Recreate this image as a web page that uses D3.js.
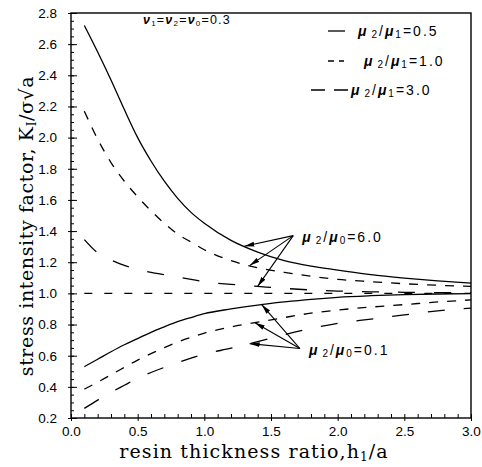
<!DOCTYPE html>
<html>
<head>
<meta charset="utf-8">
<script src="https://cdn.jsdelivr.net/npm/d3@7"></script>
<style>
  body { margin: 0; background: #fff; }
  svg { display: block; }
</style>
</head>
<body>
<svg class="js-graph"></svg>
<script>
/* <DATA> */
var hValues = [0.1, 0.2, 0.3, 0.4, 0.5, 0.6, 0.7, 0.8, 0.9, 1.0, 1.2, 1.4, 1.6, 1.8, 2.0, 2.25, 2.5, 2.75, 3.0];

// mu2/mu0 = 6.0
var high05 = [2.72, 2.55, 2.37, 2.18, 2.00, 1.85, 1.72, 1.61, 1.52, 1.45, 1.34, 1.265, 1.21, 1.175, 1.15, 1.12, 1.098, 1.08, 1.066];
var high10 = [2.17, 1.99, 1.84, 1.72, 1.62, 1.53, 1.45, 1.38, 1.33, 1.28, 1.21, 1.165, 1.135, 1.11, 1.09, 1.075, 1.062, 1.052, 1.045];
var high30 = [1.345, 1.26, 1.215, 1.18, 1.155, 1.135, 1.12, 1.105, 1.09, 1.075, 1.058, 1.045, 1.032, 1.022, 1.015, 1.01, 1.007, 1.005, 1.004];

// mu2/mu0 = 0.1
var low05 = [0.53, 0.577, 0.625, 0.67, 0.71, 0.75, 0.785, 0.818, 0.845, 0.87, 0.90, 0.925, 0.945, 0.962, 0.975, 0.985, 0.992, 0.996, 0.998];
var low10 = [0.385, 0.43, 0.478, 0.525, 0.572, 0.613, 0.652, 0.688, 0.718, 0.745, 0.785, 0.815, 0.845, 0.873, 0.893, 0.912, 0.928, 0.945, 0.958];
var low30 = [0.262, 0.315, 0.365, 0.41, 0.455, 0.492, 0.525, 0.555, 0.585, 0.61, 0.648, 0.69, 0.735, 0.775, 0.808, 0.835, 0.862, 0.888, 0.905];

// reference line K = 1
var refH = [0.1, 3.0];
var refK = [1.0, 1.0];

var muRatios = ['0.5', '1.0', '3.0'];
var yMajorTicks = [0.2, 0.4, 0.6, 0.8, 1.0, 1.2, 1.4, 1.6, 1.8, 2.0, 2.2, 2.4, 2.6, 2.8];
var xMajorTicks = [0.0, 0.5, 1.0, 1.5, 2.0, 2.5, 3.0];

// annotation: label position and the h values the arrows point at
var label6 = { h: 1.667, k: 1.371, text: '6.0' };
var tips6 = [1.30, 1.34, 1.40];
var label01 = { h: 1.717, k: 0.646, text: '0.1' };
var tips01 = [1.43, 1.38, 1.34];
/* </DATA> */

var W = 482, H = 467;
var margin = { top: 13, right: 11, bottom: 49, left: 71 };

var svg = d3.select('.js-graph').attr('width', W).attr('height', H);

var x = d3.scaleLinear().domain([0, 3]).range([margin.left, W - margin.right]);
var y = d3.scaleLinear().domain([0.2, 2.8]).range([H - margin.bottom, margin.top]);

var dashStyles = ['none', '9,9', '17,19'];

function series(vals) {
  return hValues.map(function (h, i) { return { h: h, k: vals[i] }; });
}

function interp(vals, h) {
  var i = d3.bisectRight(hValues, h) - 1;
  i = Math.max(0, Math.min(i, hValues.length - 2));
  var t = (h - hValues[i]) / (hValues[i + 1] - hValues[i]);
  return vals[i] + t * (vals[i + 1] - vals[i]);
}

var line = d3.line()
  .x(function (d) { return x(d.h); })
  .y(function (d) { return y(d.k); })
  .curve(d3.curveMonotoneX);

// AXES
var tickFont = '"Liberation Sans", Arial, sans-serif';

var minorY = d3.range(0.2, 2.801, 0.05);
var minorX = d3.range(0, 3.001, 0.1);

svg.append('g')
  .attr('transform', 'translate(' + margin.left + ',0)')
  .call(d3.axisLeft(y).tickValues(minorY).tickSize(-3).tickFormat(''))
  .call(function (g) { g.select('.domain').remove(); });

svg.append('g')
  .attr('transform', 'translate(' + margin.left + ',0)')
  .call(d3.axisLeft(y).tickValues(yMajorTicks).tickSize(-6).tickFormat(''))
  .call(function (g) { g.select('.domain').remove(); });

svg.append('g')
  .attr('class', 'y-axis')
  .attr('transform', 'translate(' + margin.left + ',0)')
  .call(d3.axisLeft(y).tickValues(yMajorTicks).tickSize(3).tickPadding(11).tickFormat(d3.format('.1f')))
  .call(function (g) {
    g.select('.domain').remove();
    g.selectAll('text').attr('font-size', 13.5).attr('font-family', tickFont).attr('fill', '#000');
  });

svg.append('g')
  .attr('transform', 'translate(0,' + (H - margin.bottom) + ')')
  .call(d3.axisBottom(x).tickValues(minorX).tickSize(-4).tickFormat(''))
  .call(function (g) { g.select('.domain').remove(); });

svg.append('g')
  .attr('class', 'x-axis')
  .attr('transform', 'translate(0,' + (H - margin.bottom) + ')')
  .call(d3.axisBottom(x).tickValues(xMajorTicks).tickSize(3).tickPadding(5).tickFormat(d3.format('.1f')))
  .call(function (g) {
    g.select('.domain').remove();
    g.selectAll('text').attr('font-size', 13.5).attr('font-family', tickFont).attr('fill', '#000');
  });

// frame
svg.append('rect')
  .attr('x', x(0)).attr('y', y(2.8))
  .attr('width', x(3) - x(0)).attr('height', y(0.2) - y(2.8))
  .attr('fill', 'none').attr('stroke', '#000').attr('stroke-width', 1.4);

// CURVES
var curves = [
  { vals: high05, style: 0 }, { vals: high10, style: 1 }, { vals: high30, style: 2 },
  { vals: low05, style: 0 }, { vals: low10, style: 1 }, { vals: low30, style: 2 }
];

svg.append('g').selectAll('path')
  .data(curves)
  .join('path')
  .attr('d', function (c) { return line(series(c.vals)); })
  .attr('fill', 'none')
  .attr('stroke', '#000')
  .attr('stroke-width', 1.3)
  .attr('stroke-dasharray', function (c) { return dashStyles[c.style]; });

svg.append('path')
  .attr('d', line(refH.map(function (h, i) { return { h: h, k: refK[i] }; })))
  .attr('fill', 'none')
  .attr('stroke', '#000')
  .attr('stroke-width', 1.3)
  .attr('stroke-dasharray', '8,12');

// ARROWS
svg.append('defs').append('marker')
  .attr('id', 'head')
  .attr('viewBox', '0 -3 10 6')
  .attr('refX', 10).attr('refY', 0)
  .attr('markerWidth', 10).attr('markerHeight', 6)
  .attr('markerUnits', 'userSpaceOnUse')
  .attr('orient', 'auto')
  .append('path')
  .attr('d', 'M0,-2.4L10,0L0,2.4Z')
  .attr('fill', '#000');

function drawArrows(label, tips, sets) {
  tips.forEach(function (h, i) {
    svg.append('line')
      .attr('x1', x(label.h)).attr('y1', y(label.k))
      .attr('x2', x(h)).attr('y2', y(interp(sets[i], h)))
      .attr('stroke', '#000').attr('stroke-width', 1.1)
      .attr('marker-end', 'url(#head)');
  });
}
drawArrows(label6, tips6, [high05, high10, high30]);
drawArrows(label01, tips01, [low05, low10, low30]);

function muText(sel, sub2, sub1, value) {
  sel.append('tspan').attr('font-style', 'italic').attr('font-weight', 'bold').text('μ');
  sel.append('tspan').attr('font-size', 10).attr('dx', 3).attr('dy', 2).text(sub2);
  sel.append('tspan').attr('dy', -2).text('/');
  sel.append('tspan').attr('font-style', 'italic').attr('font-weight', 'bold').text('μ');
  sel.append('tspan').attr('font-size', 10).attr('dy', 2).text(sub1);
  sel.append('tspan').attr('dy', -2).text('=' + value);
}

[label6, label01].forEach(function (l) {
  var t = svg.append('text')
    .attr('x', x(l.h) + 9).attr('y', y(l.k) + 6)
    .attr('font-family', tickFont).attr('font-size', 14)
    .attr('letter-spacing', 2);
  muText(t, '2', '0', l.text);
});

// LEGEND
var legendY = [31, 61, 90];
var legendSample = [[328, 345], [328, 344], [311, 348]];
var legendTextX = [358, 364, 351];
muRatios.forEach(function (r, i) {
  svg.append('line')
    .attr('x1', legendSample[i][0]).attr('x2', legendSample[i][1])
    .attr('y1', legendY[i]).attr('y2', legendY[i])
    .attr('stroke', '#000').attr('stroke-width', 1.3)
    .attr('stroke-dasharray', i === 1 ? '6,5' : i === 2 ? '14,9' : 'none');
  var t = svg.append('text')
    .attr('x', legendTextX[i]).attr('y', legendY[i] + 5)
    .attr('font-family', tickFont).attr('font-size', 14)
    .attr('letter-spacing', 2);
  muText(t, '2', '1', r);
});

// poisson ratio note
var nu = svg.append('text')
  .attr('x', 143).attr('y', 24)
  .attr('font-family', tickFont).attr('font-size', 12.5)
  .attr('letter-spacing', 1.2);
[['ν', '1', '='], ['ν', '2', '='], ['ν', '0', '=0.3']].forEach(function (p) {
  nu.append('tspan').attr('font-style', 'italic').attr('font-weight', 'bold').text(p[0]);
  nu.append('tspan').attr('font-size', 8).attr('dy', 2).text(p[1]);
  nu.append('tspan').attr('dy', -2).text(p[2]);
});

// AXIS TITLES
var titleFont = '"DejaVu Serif", "Liberation Serif", serif';

var xt = svg.append('text')
  .attr('x', (x(0) + x(3)) / 2 - 17).attr('y', 458)
  .attr('text-anchor', 'middle')
  .attr('font-family', titleFont).attr('font-size', 19)
  .attr('letter-spacing', 1.1);
xt.append('tspan').text('resin thickness ratio,h');
xt.append('tspan').attr('font-size', 12).attr('dy', 3).text('1');
xt.append('tspan').attr('dy', -3).text('/a');

var yt = svg.append('text')
  .attr('transform', 'translate(33,' + 226 + ') rotate(-90)')
  .attr('text-anchor', 'middle')
  .attr('font-family', titleFont).attr('font-size', 19)
  .attr('letter-spacing', 0.6);
yt.append('tspan').text('stress intensity factor, K');
yt.append('tspan').attr('font-size', 12).attr('dy', 3).text('I');
yt.append('tspan').attr('dy', -3).text('/σ√a');
</script>
</body>
</html>
